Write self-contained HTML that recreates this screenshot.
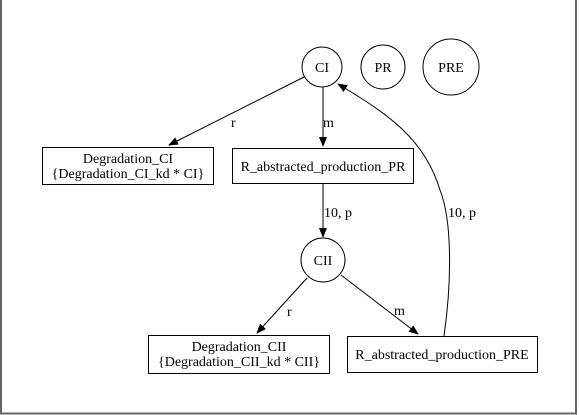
<!DOCTYPE html>
<html><head><style>html,body{margin:0;padding:0;background:#fff;}svg{display:block}</style></head>
<body>
<svg width="579" height="415" viewBox="0 0 579 415" xmlns="http://www.w3.org/2000/svg" font-family="Liberation Serif, serif" font-size="14">
<defs><marker id="a" markerWidth="10" markerHeight="8" refX="9" refY="4" orient="auto" markerUnits="userSpaceOnUse"><path d="M0,0L10,4L0,8z" fill="#000"/></marker></defs>
<line x1="1" y1="0" x2="1" y2="414" stroke="#666" stroke-width="2"/>
<line x1="576" y1="0" x2="576" y2="414" stroke="#666" stroke-width="2"/>
<line x1="0" y1="413.5" x2="577" y2="413.5" stroke="#666" stroke-width="2"/>
<g fill="none" stroke="#000">
<circle cx="322" cy="67" r="20"/>
<circle cx="383" cy="67" r="22"/>
<circle cx="451" cy="67" r="28"/>
<circle cx="323" cy="260" r="22"/>
<rect x="42.5" y="147.5" width="171" height="37"/>
<rect x="232.5" y="148.5" width="181" height="35"/>
<rect x="148.5" y="335.5" width="181" height="38"/>
<rect x="347.5" y="336.5" width="190" height="36"/>
<path d="M304,77L169,145" marker-end="url(#a)"/>
<path d="M323,87L323,146" marker-end="url(#a)"/>
<path d="M323,184L323,237" marker-end="url(#a)"/>
<path d="M307,278L257,333" marker-end="url(#a)"/>
<path d="M341,275L418,334" marker-end="url(#a)"/>
<path d="M444,336C452,280 452,220 440,190C425,140 390,115 338,84" marker-end="url(#a)"/>
</g>
<g fill="#000" text-anchor="middle">
<text x="322" y="72">CI</text>
<text x="383" y="72">PR</text>
<text x="451" y="72">PRE</text>
<text x="323" y="265">CII</text>
<text x="128" y="163">Degradation_CI</text>
<text x="128" y="178">{Degradation_CI_kd * CI}</text>
<text x="323" y="171">R_abstracted_production_PR</text>
<text x="239" y="351">Degradation_CII</text>
<text x="239" y="366">{Degradation_CII_kd * CII}</text>
<text x="442" y="359">R_abstracted_production_PRE</text>
</g>
<g fill="#000">
<text x="231" y="127">r</text>
<text x="323" y="127">m</text>
<text x="324" y="217">10, p</text>
<text x="287" y="316">r</text>
<text x="394" y="315">m</text>
<text x="448" y="217">10, p</text>
</g>
</svg>
</body></html>
